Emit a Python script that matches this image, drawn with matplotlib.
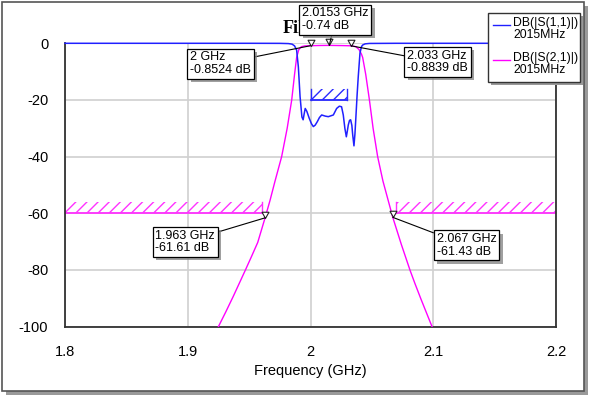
import matplotlib
matplotlib.use('Agg')
import matplotlib.pyplot as plt
import matplotlib.patches as patches
import matplotlib.patheffects as pe
from matplotlib.lines import Line2D
from matplotlib.path import Path

plt.rcParams['font.family'] = ['Liberation Sans', 'DejaVu Sans']
plt.rcParams['axes.unicode_minus'] = False
plt.rcParams['hatch.linewidth'] = 1.0

# S11 trace (blue)
freq_s11 = [1.8, 1.95, 1.975, 1.982, 1.985, 1.987, 1.9887, 1.9901, 1.9915, 1.9930,
            1.9940, 1.9948, 1.9957, 1.9970, 1.999, 2.0008, 2.0023, 2.0038, 2.0055,
            2.0073, 2.0091, 2.012, 2.0145, 2.0186, 2.0213, 2.0235, 2.0253, 2.0267,
            2.0280, 2.0292, 2.0300, 2.0308, 2.0318, 2.0327, 2.0337, 2.0344, 2.0354,
            2.0362, 2.0370, 2.0380, 2.0389, 2.0403, 2.0415, 2.0425, 2.0445, 2.048,
            2.07, 2.2]
s11_db = [0, 0, -0.02, -0.1, -0.3, -0.9, -2.4, -8.3, -18.8, -26.0,
          -27.0, -25.0, -23.0, -24.0, -26.5, -28.4, -29.4, -28.9, -27.7,
          -26.2, -25.3, -25.7, -25.9, -25.3, -23.0, -22.2, -22.4, -25.3,
          -30.0, -33.0, -31.0, -28.8, -27.2, -27.0, -29.0, -32.4, -36.2,
          -32.0, -25.9, -18.0, -11.8, -3.5, -1.2, -0.6, -0.2, -0.05,
          0, 0]

# S21 trace (magenta)
freq_s21 = [1.92, 1.925, 1.931, 1.937, 1.942, 1.947, 1.952, 1.957, 1.963, 1.967,
            1.971, 1.9765, 1.981, 1.9847, 1.9870, 1.9887, 1.9905, 1.9925, 1.9955,
            2.0, 2.008, 2.0153, 2.025, 2.033, 2.037, 2.0395, 2.0415, 2.0425,
            2.045, 2.048, 2.051, 2.0547, 2.059, 2.063, 2.067, 2.074, 2.081,
            2.085, 2.090, 2.095, 2.099, 2.104]
s21_db = [-104.5, -100, -94.8, -89.4, -84.7, -80, -75.2, -70.3, -61.6, -55.5,
          -48.8, -40, -30, -20, -11, -5, -2.2, -1.2, -0.9,
          -0.85, -0.77, -0.74, -0.8, -0.88, -1.2, -2.2, -3.8, -5,
          -11, -20, -30, -40, -48.6, -55, -61.4, -71, -80,
          -84.7, -90.3, -95.7, -100, -105.3]

# markers
marker_freq = [2.0, 2.0153, 2.033, 1.963, 2.067]
marker_db = [-0.8524, -0.74, -0.8839, -61.61, -61.43]

# spec masks: (f_start, f_stop, level)
mask_s21 = [(1.8, 1.9603, -60), (2.07, 2.2, -60)]
mask_s11 = [(2.0, 2.03, -20)]

xticks = [1.8, 1.9, 2.0, 2.1, 2.2]
xtick_labels = ['1.8', '1.9', '2', '2.1', '2.2']
yticks = [0, -20, -40, -60, -80, -100]
ytick_labels = ['0', '-20', '-40', '-60', '-80', '-100']

W, H = 592, 397


def px(x, y):
    # image pixel (y from top) -> figure fraction
    return x / W, 1 - y / H


fig = plt.figure(figsize=(W / 100, H / 100), dpi=100)

# outer frame with shadow
shadow = patches.Rectangle(px(6, 395), 582 / W, 389 / H, transform=fig.transFigure,
                           facecolor='#9a9a9a', edgecolor='none', zorder=-5)
frame = patches.Rectangle(px(2, 391), 582 / W, 389 / H, transform=fig.transFigure,
                          facecolor='white', edgecolor='#555555', linewidth=1.2, zorder=-4)
fig.add_artist(shadow)
fig.add_artist(frame)

ax = fig.add_axes([65 / W, 1 - 326.6 / H, 491 / W, 283.3 / H])
ax.set_xlim(1.8, 2.2)
ax.set_ylim(-100, 0)

ax.set_xticks(xticks)
ax.set_xticklabels(xtick_labels)
ax.set_yticks(yticks)
ax.set_yticklabels(ytick_labels)
ax.tick_params(length=0, labelsize=10.5, colors='black')
ax.tick_params(axis='x', pad=13)
ax.tick_params(axis='y', pad=12)
ax.set_xlabel('Frequency (GHz)', fontsize=10.5, labelpad=4)
ax.grid(True, color='#d0d0d0', linewidth=1.2)
ax.set_axisbelow(True)
for s in ['left', 'bottom', 'right']:
    ax.spines[s].set_color('#333333')
    ax.spines[s].set_linewidth(1.3)
ax.spines['top'].set_visible(False)

# masks
for f0, f1, lev in mask_s21:
    ax.add_patch(patches.Rectangle((f0, lev), f1 - f0, 4, fill=False, hatch='///',
                                   edgecolor='#ff33ff', linewidth=0, zorder=2))
    ax.plot([f0, f1], [lev, lev], color='#ff33ff', lw=1.3, zorder=2)
    edge = f1 if f0 == 1.8 else f0
    ax.plot([edge, edge], [lev, lev + 4], color='#ff33ff', lw=1.0, zorder=2)
for f0, f1, lev in mask_s11:
    ax.add_patch(patches.Rectangle((f0, lev), f1 - f0, 4, fill=False, hatch='///',
                                   edgecolor='#2a2aff', linewidth=0, zorder=2))
    ax.plot([f0, f1], [lev, lev], color='#2a2aff', lw=1.3, zorder=2)
    ax.plot([f0, f0], [lev, lev + 4], color='#2a2aff', lw=1.0, zorder=2)
    ax.plot([f1, f1], [lev, lev + 4], color='#2a2aff', lw=1.0, zorder=2)

ax.plot(freq_s21, s21_db, color='#ff00ff', lw=1.0, zorder=3)
ax.plot(freq_s11, s11_db, color='#2020ff', lw=1.1, zorder=4, clip_on=False)

# marker triangles with tip at the point
tri = Path([(-0.55, 1.0), (0.55, 1.0), (0.0, 0.0), (-0.55, 1.0)],
           [Path.MOVETO, Path.LINETO, Path.LINETO, Path.CLOSEPOLY])
ax.plot(marker_freq, marker_db, linestyle='none', marker=tri, markersize=9,
        markerfacecolor='white', markeredgecolor='#222222', markeredgewidth=0.8,
        zorder=6, clip_on=False)

# label box centres (image pixels)
label_pos = [(220.4, 63.7), (335.4, 19.7), (437.5, 62.0), (185.3, 241.8), (466.5, 245.4)]
shadow_fx = [pe.SimplePatchShadow(offset=(2.5, -2.5), shadow_rgbFace='#888888', alpha=0.8),
             pe.Normal()]
for f, d, (bx, by) in zip(marker_freq, marker_db, label_pos):
    txt = f'{f:g} GHz\n{d:g} dB'
    a = ax.annotate(txt, xy=(f, d), xytext=px(bx, by), textcoords='figure fraction',
                    ha='center', va='center', multialignment='left', fontsize=9,
                    linespacing=1.05,
                    bbox=dict(boxstyle='square,pad=0.22', fc='white', ec='black', lw=0.9),
                    arrowprops=dict(arrowstyle='-', color='black', lw=0.8,
                                    shrinkA=0, shrinkB=0),
                    annotation_clip=False, zorder=7)
    a.get_bbox_patch().set_path_effects(shadow_fx)

# title (mostly hidden behind the top marker box)
fig.text(*px(283, 33.3), 'Filter', fontsize=13, fontweight='bold',
         family=['Liberation Serif', 'DejaVu Serif'], ha='left', va='baseline', zorder=-1)

# legend
lx0, ly0, lx1, ly1 = 488.3, 13.3, 580, 81.7
lsh = patches.Rectangle(px(lx0 + 3, ly1 + 3), (lx1 - lx0) / W, (ly1 - ly0) / H,
                        transform=fig.transFigure, facecolor='#999999', edgecolor='none', zorder=8)
lbox = patches.Rectangle(px(lx0, ly1), (lx1 - lx0) / W, (ly1 - ly0) / H,
                         transform=fig.transFigure, facecolor='white', edgecolor='#333333',
                         linewidth=1.0, zorder=9)
fig.add_artist(lsh)
fig.add_artist(lbox)
legend_items = [('DB(|S(1,1)|)\n2015MHz', '#2020ff', 24.5), ('DB(|S(2,1)|)\n2015MHz', '#ff00ff', 59.5)]
for label, col, yy in legend_items:
    x0, y0 = px(493, yy)
    x1, _ = px(510, yy)
    fig.add_artist(Line2D([x0, x1], [y0, y0], transform=fig.transFigure, color=col,
                          lw=1.0, zorder=10))
    fig.text(*px(513, yy - 7.5), label, fontsize=8.8, ha='left', va='top',
             linespacing=1.05, zorder=10)

fig.savefig('out.png', dpi=100)
